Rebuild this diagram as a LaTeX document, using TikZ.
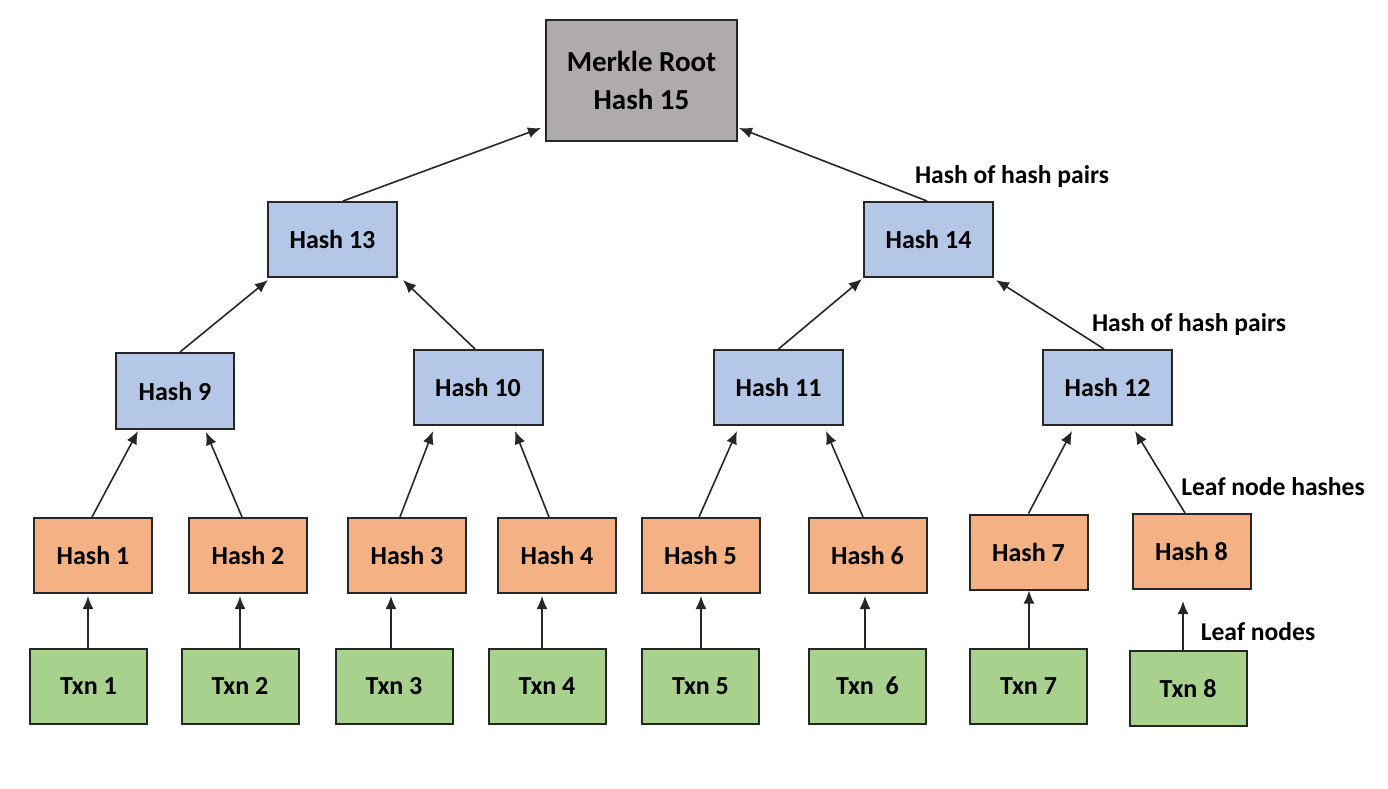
\documentclass[tikz,border=0pt]{standalone}
\usepackage{fontspec}
\setmainfont{Carlito}
\usepackage{tikz}
\usetikzlibrary{arrows.meta,calc}
\definecolor{rootgray}{RGB}{175,171,171}
\definecolor{hashblue}{RGB}{180,199,231}
\definecolor{leaforange}{RGB}{244,177,131}
\definecolor{txngreen}{RGB}{169,209,142}

\begin{document}
\begin{tikzpicture}[x=0.5pt,y=-0.5pt]
\tikzstyle{every node}=[font=\fontsize{13}{15}\selectfont\bfseries]
\tikzstyle{box}=[draw=black!85, line width=1pt, inner sep=0pt, align=center]
\tikzstyle{rootbox}=[box, fill=rootgray, minimum width=95.5pt, minimum height=60.5pt, font=\fontsize{14.5}{19}\selectfont\bfseries]
\tikzstyle{pairbox}=[box, fill=hashblue, minimum width=64.5pt, minimum height=37.5pt]
\tikzstyle{leafbox}=[box, fill=leaforange, minimum width=59pt, minimum height=37.5pt]
\tikzstyle{txnbox}=[box, fill=txngreen, minimum width=58.5pt, minimum height=37.5pt]
\tikzstyle{arrow}=[-{Latex[length=6.5pt,width=5.5pt]}, line width=0.8pt, black!85]
\tikzstyle{note}=[font=\fontsize{12.8}{15}\selectfont\bfseries]

	\useasboundingbox (0,0) rectangle (1388,788);

	% root and the hashes of hash pairs
	\node[rootbox] (root) at (641.5,80.5) {Merkle Root\\Hash 15};
	\node[pairbox] (h13) at (332.5,239.5) {Hash 13};
	\node[pairbox] (h14) at (928.5,239.5) {Hash 14};
	\node[pairbox, minimum width=59pt, minimum height=38pt] (h9) at (175,391) {Hash 9};
	\node[pairbox] (h10) at (478,387.5) {Hash 10};
	\node[pairbox] (h11) at (778.5,387.5) {Hash 11};
	\node[pairbox] (h12) at (1107.5,387.5) {Hash 12};

	% leaf hashes and transactions
	\foreach \i/\hx/\hy/\tx/\ty/\txt/\dx/\gap in {
		1/93/555.5/88.5/686/Txn 1/-0.5/1,
		2/248/555.5/240/686/Txn 2/0/1,
		3/407/555.5/394/686.5/Txn 3/-3/1,
		4/557/555.5/547/686.5/Txn 4/-5/1,
		5/700.5/555.5/700.5/686/Txn 5/0.5/1,
		6/867.5/555.5/867.5/686/Txn~~6/-2.5/1,
		7/1028.5/552/1028.5/686.5/Txn 7/0.5/0,
		8/1191.5/551.5/1188/688.5/Txn 8/-5/5.5} {
		\node[leafbox] (h\i) at (\hx,\hy) {Hash \i};
		\node[txnbox] (t\i) at (\tx,\ty) {\txt};
		\draw[arrow, shorten >=\gap pt] ($(t\i.north)+(\dx,0)$) -- ($(t\i.north |- h\i.south)+(\dx,0)$);
	}

	% leaf hashes to pairs
	\draw[arrow] ($(h1.north)+(-1,0)$) -- ($(h9.south)+(-37,1)$);
	\draw[arrow] ($(h2.north)+(-6,0)$) -- ($(h9.south)+(31,2)$);
	\draw[arrow] ($(h3.north)+(-7,0)$) -- ($(h10.south)+(-45,5)$);
	\draw[arrow] ($(h4.north)+(-8,0)$) -- ($(h10.south)+(37,5)$);
	\draw[arrow] ($(h5.north)+(-1.5,0)$) -- ($(h11.south)+(-41.5,5)$);
	\draw[arrow] ($(h6.north)+(-4.5,0)$) -- ($(h11.south)+(47.5,5)$);
	\draw[arrow] (h7.north) -- ($(h12.south)+(-35.5,5)$);
	\draw[arrow] ($(h8.north)+(-6.5,0)$) -- ($(h12.south)+(27.5,5)$);

	% pairs upwards
	\draw[arrow] ($(h9.north)+(5,0)$) -- ($(h13.south west)+(1,2)$);
	\draw[arrow] ($(h10.north)+(-3,0)$) -- ($(h13.south east)+(5,2)$);
	\draw[arrow] (h11.north) -- ($(h14.south west)+(-1,1)$);
	\draw[arrow] ($(h12.north)+(-3.5,0)$) -- ($(h14.south east)+(2,2)$);
	\draw[arrow] ($(h13.north)+(10.5,0)$) -- ($(root.south west)+(-4,-14)$);
	\draw[arrow] ($(h14.north)+(-1.5,0)$) -- ($(root.south east)+(1,-14)$);

	\node[note] (l1) at (1012,177) {Hash of hash pairs};
	\node[note] (l2) at (1189,325) {Hash of hash pairs};
	\node[note] (l3) at (1273,487) {Leaf node hashes};
	\node[note] (l4) at (1258,632) {Leaf nodes};
\end{tikzpicture}
\end{document}
